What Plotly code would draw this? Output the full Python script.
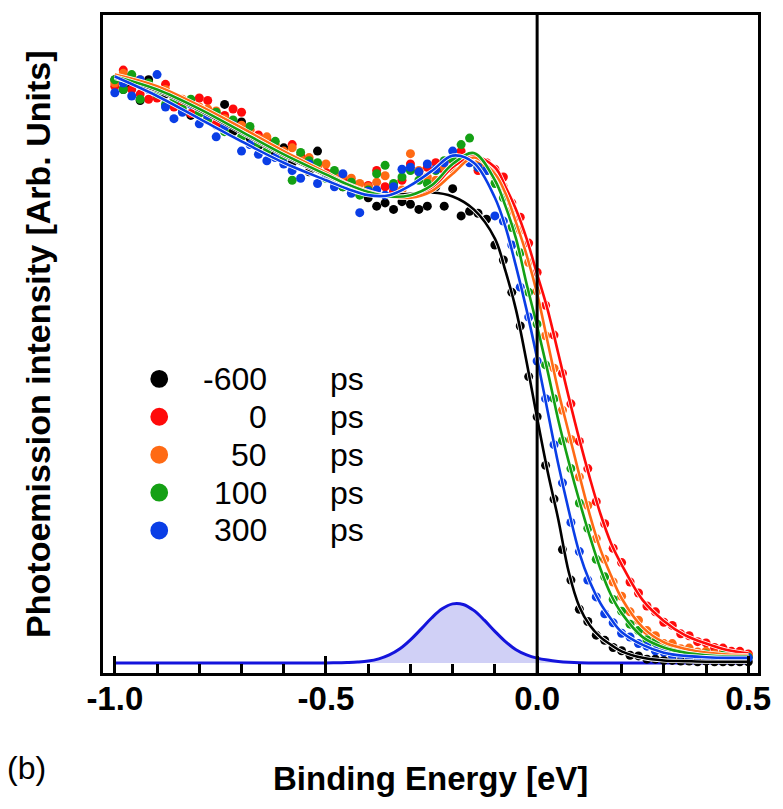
import plotly.graph_objects as go

# ---------------- data ----------------
energy = [-1.00, -0.98, -0.96, -0.94, -0.92, -0.90, -0.88, -0.86, -0.84, -0.82,
          -0.80, -0.78, -0.76, -0.74, -0.72, -0.70, -0.68, -0.66, -0.64, -0.62,
          -0.60, -0.58, -0.56, -0.54, -0.52, -0.50, -0.48, -0.46, -0.44, -0.42,
          -0.40, -0.38, -0.36, -0.34, -0.32, -0.30, -0.28, -0.26, -0.24, -0.22,
          -0.20, -0.18, -0.16, -0.14, -0.12, -0.10, -0.08, -0.06, -0.04, -0.02,
          0.00, 0.02, 0.04, 0.06, 0.08, 0.10, 0.12, 0.14, 0.16, 0.18,
          0.20, 0.22, 0.24, 0.26, 0.28, 0.30, 0.32, 0.34, 0.36, 0.38,
          0.40, 0.42, 0.44, 0.46, 0.48, 0.50]

data_m600 = [0.900, 0.885, 0.890, 0.868, 0.900, 0.875, 0.878, 0.860, 0.865, 0.845,
             0.855, 0.840, 0.830, 0.862, 0.820, 0.835, 0.810, 0.798, 0.800, 0.785,
             0.795, 0.772, 0.775, 0.758, 0.790, 0.755, 0.742, 0.735, 0.740, 0.728,
             0.718, 0.705, 0.710, 0.700, 0.712, 0.708, 0.700, 0.705, 0.735, 0.705,
             0.732, 0.690, 0.697, 0.694, 0.685, 0.645, 0.622, 0.572, 0.520, 0.442,
             0.380, 0.305, 0.253, 0.175, 0.128, 0.083, 0.064, 0.043, 0.035, 0.024,
             0.019, 0.012, 0.011, 0.006, 0.006, 0.004, 0.004, 0.003, 0.003, 0.002,
             0.003, 0.002, 0.002, 0.002, 0.002, 0.002]

data_0 = [0.890, 0.915, 0.885, 0.878, 0.870, 0.872, 0.893, 0.858, 0.862, 0.848,
          0.872, 0.868, 0.832, 0.845, 0.855, 0.850, 0.823, 0.815, 0.808, 0.795,
          0.788, 0.800, 0.783, 0.768, 0.770, 0.757, 0.750, 0.745, 0.738, 0.728,
          0.737, 0.760, 0.735, 0.728, 0.745, 0.770, 0.758, 0.765, 0.772, 0.760,
          0.776, 0.790, 0.775, 0.760, 0.772, 0.762, 0.750, 0.710, 0.688, 0.648,
          0.603, 0.552, 0.506, 0.447, 0.400, 0.342, 0.300, 0.249, 0.215, 0.177,
          0.155, 0.125, 0.108, 0.088, 0.079, 0.063, 0.058, 0.045, 0.042, 0.033,
          0.031, 0.024, 0.023, 0.018, 0.018, 0.014]

data_50 = [0.895, 0.910, 0.905, 0.900, 0.890, 0.883, 0.885, 0.872, 0.870, 0.868,
           0.858, 0.855, 0.852, 0.840, 0.832, 0.830, 0.822, 0.810, 0.812, 0.800,
           0.790, 0.795, 0.778, 0.780, 0.765, 0.770, 0.756, 0.752, 0.748, 0.740,
           0.735, 0.742, 0.752, 0.738, 0.730, 0.786, 0.760, 0.750, 0.745, 0.765,
           0.762, 0.775, 0.782, 0.770, 0.770, 0.752, 0.735, 0.698, 0.668, 0.618,
           0.574, 0.505, 0.455, 0.390, 0.345, 0.287, 0.243, 0.192, 0.160, 0.125,
           0.103, 0.079, 0.066, 0.050, 0.042, 0.030, 0.030, 0.022, 0.023, 0.017,
           0.018, 0.014, 0.016, 0.012, 0.014, 0.011]

data_100 = [0.900, 0.885, 0.908, 0.870, 0.895, 0.878, 0.862, 0.868, 0.855, 0.870,
            0.848, 0.838, 0.850, 0.820, 0.838, 0.812, 0.828, 0.802, 0.790, 0.805,
            0.780, 0.745, 0.788, 0.775, 0.772, 0.748, 0.760, 0.735, 0.742, 0.722,
            0.730, 0.755, 0.768, 0.740, 0.750, 0.760, 0.745, 0.740, 0.760, 0.775,
            0.778, 0.800, 0.810, 0.765, 0.760, 0.740, 0.718, 0.672, 0.633, 0.572,
            0.523, 0.460, 0.408, 0.343, 0.300, 0.247, 0.208, 0.160, 0.133, 0.098,
            0.080, 0.060, 0.050, 0.036, 0.032, 0.022, 0.022, 0.015, 0.017, 0.012,
            0.014, 0.010, 0.012, 0.009, 0.011, 0.009]

data_300 = [0.880, 0.895, 0.875, 0.900, 0.885, 0.908, 0.858, 0.840, 0.850, 0.862,
            0.832, 0.845, 0.812, 0.828, 0.830, 0.790, 0.800, 0.785, 0.775, 0.780,
            0.770, 0.760, 0.748, 0.770, 0.740, 0.752, 0.735, 0.755, 0.725, 0.695,
            0.728, 0.730, 0.722, 0.735, 0.762, 0.765, 0.758, 0.770, 0.762, 0.772,
            0.790, 0.778, 0.772, 0.765, 0.760, 0.690, 0.682, 0.645, 0.580, 0.534,
            0.466, 0.408, 0.337, 0.278, 0.217, 0.172, 0.128, 0.102, 0.076, 0.062,
            0.046, 0.040, 0.030, 0.026, 0.019, 0.017, 0.012, 0.013, 0.009, 0.011,
            0.008, 0.010, 0.007, 0.009, 0.007, 0.008]

fit_energy = [-1.00, -0.90, -0.80, -0.70, -0.60, -0.50, -0.45, -0.40, -0.35, -0.30,
              -0.25, -0.20, -0.15, -0.10, -0.075, -0.05, -0.025, 0.00, 0.025, 0.05,
              0.075, 0.10, 0.125, 0.15, 0.175, 0.20, 0.25, 0.30, 0.35, 0.40,
              0.45, 0.50]

fit_m600 = [0.903, 0.883, 0.853, 0.818, 0.783, 0.752, 0.737, 0.725, 0.722, 0.724,
            0.726, 0.720, 0.700, 0.655, 0.605, 0.545, 0.465, 0.378, 0.295, 0.222,
            0.140, 0.087, 0.058, 0.040, 0.028, 0.018, 0.008, 0.004, 0.003, 0.002,
            0.002, 0.002]

fit_0 = [0.905, 0.886, 0.856, 0.821, 0.786, 0.754, 0.738, 0.726, 0.720, 0.720,
         0.733, 0.765, 0.782, 0.765, 0.735, 0.700, 0.655, 0.600, 0.545, 0.478,
         0.410, 0.345, 0.285, 0.230, 0.185, 0.152, 0.097, 0.065, 0.043, 0.030,
         0.020, 0.015]

fit_50 = [0.908, 0.890, 0.860, 0.826, 0.790, 0.757, 0.740, 0.728, 0.720, 0.718,
          0.728, 0.755, 0.780, 0.755, 0.725, 0.680, 0.630, 0.570, 0.495, 0.420,
          0.355, 0.290, 0.228, 0.175, 0.135, 0.100, 0.055, 0.032, 0.022, 0.016,
          0.013, 0.012]

fit_100 = [0.905, 0.885, 0.855, 0.820, 0.785, 0.754, 0.739, 0.727, 0.720, 0.722,
           0.737, 0.770, 0.787, 0.745, 0.705, 0.655, 0.585, 0.520, 0.450, 0.375,
           0.310, 0.250, 0.195, 0.145, 0.105, 0.077, 0.040, 0.024, 0.016, 0.012,
           0.010, 0.010]

fit_300 = [0.905, 0.875, 0.840, 0.805, 0.772, 0.745, 0.732, 0.722, 0.722, 0.737,
           0.759, 0.783, 0.772, 0.718, 0.673, 0.612, 0.545, 0.470, 0.388, 0.307,
           0.235, 0.170, 0.125, 0.092, 0.068, 0.048, 0.028, 0.016, 0.011, 0.009,
           0.008, 0.008]

gauss_energy = [-1.00, -0.90, -0.80, -0.70, -0.60, -0.50, -0.475, -0.45, -0.425, -0.40,
                -0.375, -0.35, -0.325, -0.30, -0.275, -0.25, -0.225, -0.20, -0.175, -0.15,
                -0.125, -0.10, -0.075, -0.05, -0.025, 0.00, 0.025, 0.05, 0.075, 0.10,
                0.20, 0.30, 0.40, 0.50]
gauss_values = [0.0, 0.0, 0.0, 0.0, 0.0, 0.0002, 0.0004, 0.0008, 0.0015, 0.0030,
                0.0064, 0.0125, 0.0220, 0.0358, 0.0523, 0.0695, 0.0836, 0.0913, 0.0904, 0.0812,
                0.0661, 0.0489, 0.0330, 0.0205, 0.0125, 0.0075, 0.0045, 0.0025, 0.0012, 0.0005,
                0.0, 0.0, 0.0, 0.0]

delays = ["-600", "0", "50", "100", "300"]
colors = ["#000000", "#ff0a0a", "#ff6a14", "#14a014", "#0a3ee6"]
data_sets = [data_m600, data_0, data_50, data_100, data_300]
fit_sets = [fit_m600, fit_0, fit_50, fit_100, fit_300]

# ---------------- layout geometry (pixels) ----------------
W, H = 783, 809
L, R, T, B = 103, 16, 13, 136
PW, PH = W - L - R, H - T - B


def px(xp):
    return (xp - L) / PW


def py(yp):
    return (H - B - yp) / PH


# ---------------- figure ----------------
fig = go.Figure()

fig.add_trace(go.Scatter(x=gauss_energy, y=gauss_values, mode="lines",
                         line=dict(color="#1414dc", width=3, shape="spline"),
                         fill="tozeroy", fillcolor="rgba(200,200,245,0.85)",
                         showlegend=False, hoverinfo="skip"))

for vals, col in zip(data_sets, colors):
    fig.add_trace(go.Scatter(x=energy, y=vals, mode="markers",
                             marker=dict(color=col, size=9),
                             showlegend=False))

for vals, col in zip(fit_sets, colors):
    fig.add_trace(go.Scatter(x=fit_energy, y=vals, mode="lines",
                             line=dict(color="white", width=4.2, shape="spline"),
                             showlegend=False, hoverinfo="skip"))
    fig.add_trace(go.Scatter(x=fit_energy, y=vals, mode="lines",
                             line=dict(color=col, width=2.6, shape="spline"),
                             showlegend=False, hoverinfo="skip"))

fig.add_shape(type="line", xref="x", yref="paper", x0=0, x1=0, y0=0, y1=1,
              line=dict(color="black", width=3))

# legend (drawn as swatches + right-aligned labels)
annotations = []
row0, row_gap, dot_r = 378, 38, 9
for i, (d, col) in enumerate(zip(delays, colors)):
    cy = row0 + i * row_gap
    fig.add_shape(type="circle", xref="paper", yref="paper",
                  x0=px(160 - dot_r), x1=px(160 + dot_r),
                  y0=py(cy + dot_r), y1=py(cy - dot_r),
                  fillcolor=col, line=dict(color=col, width=0))
    annotations.append(dict(text=d, xref="paper", yref="paper", x=px(271), y=py(cy),
                            xanchor="right", yanchor="middle", showarrow=False,
                            font=dict(size=32, color="black")))
    annotations.append(dict(text="ps", xref="paper", yref="paper", x=px(331), y=py(cy),
                            xanchor="left", yanchor="middle", showarrow=False,
                            font=dict(size=32, color="black")))

annotations += [
    dict(text="Binding Energy [eV]", xref="paper", yref="paper",
         x=0.5, y=py(779), xanchor="center", yanchor="middle", showarrow=False,
         font=dict(size=33, color="black", weight="bold")),
    dict(text="(b)", xref="paper", yref="paper",
         x=px(4), y=py(768), xanchor="left", yanchor="middle", showarrow=False,
         font=dict(size=32, color="black")),
    dict(text="Photoemission intensity [Arb. Units]", xref="paper", yref="paper",
         x=px(37), y=0.5, xanchor="center", yanchor="middle", showarrow=False,
         textangle=-90, font=dict(size=34, color="black", weight="bold")),
]

fig.update_layout(
    width=W, height=H,
    margin=dict(l=L, r=R, t=T, b=B),
    plot_bgcolor="white", paper_bgcolor="white",
    font=dict(family="Liberation Sans, Arial, sans-serif", color="black"),
    showlegend=False,
    xaxis=dict(range=[-1.028, 0.523], showgrid=False, zeroline=False,
               showline=True, linecolor="black", linewidth=3, mirror=True,
               ticks="inside", ticklen=17, tickwidth=2.5, tickcolor="black",
               tickvals=[-1.0, -0.5, 0.0, 0.5], ticktext=["-1.0", "-0.5", "0.0", "0.5"],
               tickfont=dict(size=33, color="black", weight="bold"),
               ticklabelstandoff=-6,
               minor=dict(tickvals=[-0.9, -0.8, -0.7, -0.6, -0.4, -0.3, -0.2, -0.1,
                                    0.1, 0.2, 0.3, 0.4],
                          ticks="inside", ticklen=9, tickwidth=2.5, tickcolor="black")),
    yaxis=dict(range=[-0.0154, 1.0], showgrid=False, zeroline=False,
               showline=True, linecolor="black", linewidth=3, mirror=True,
               showticklabels=False, ticks=""),
    annotations=annotations,
)

fig.write_html("out.html")
